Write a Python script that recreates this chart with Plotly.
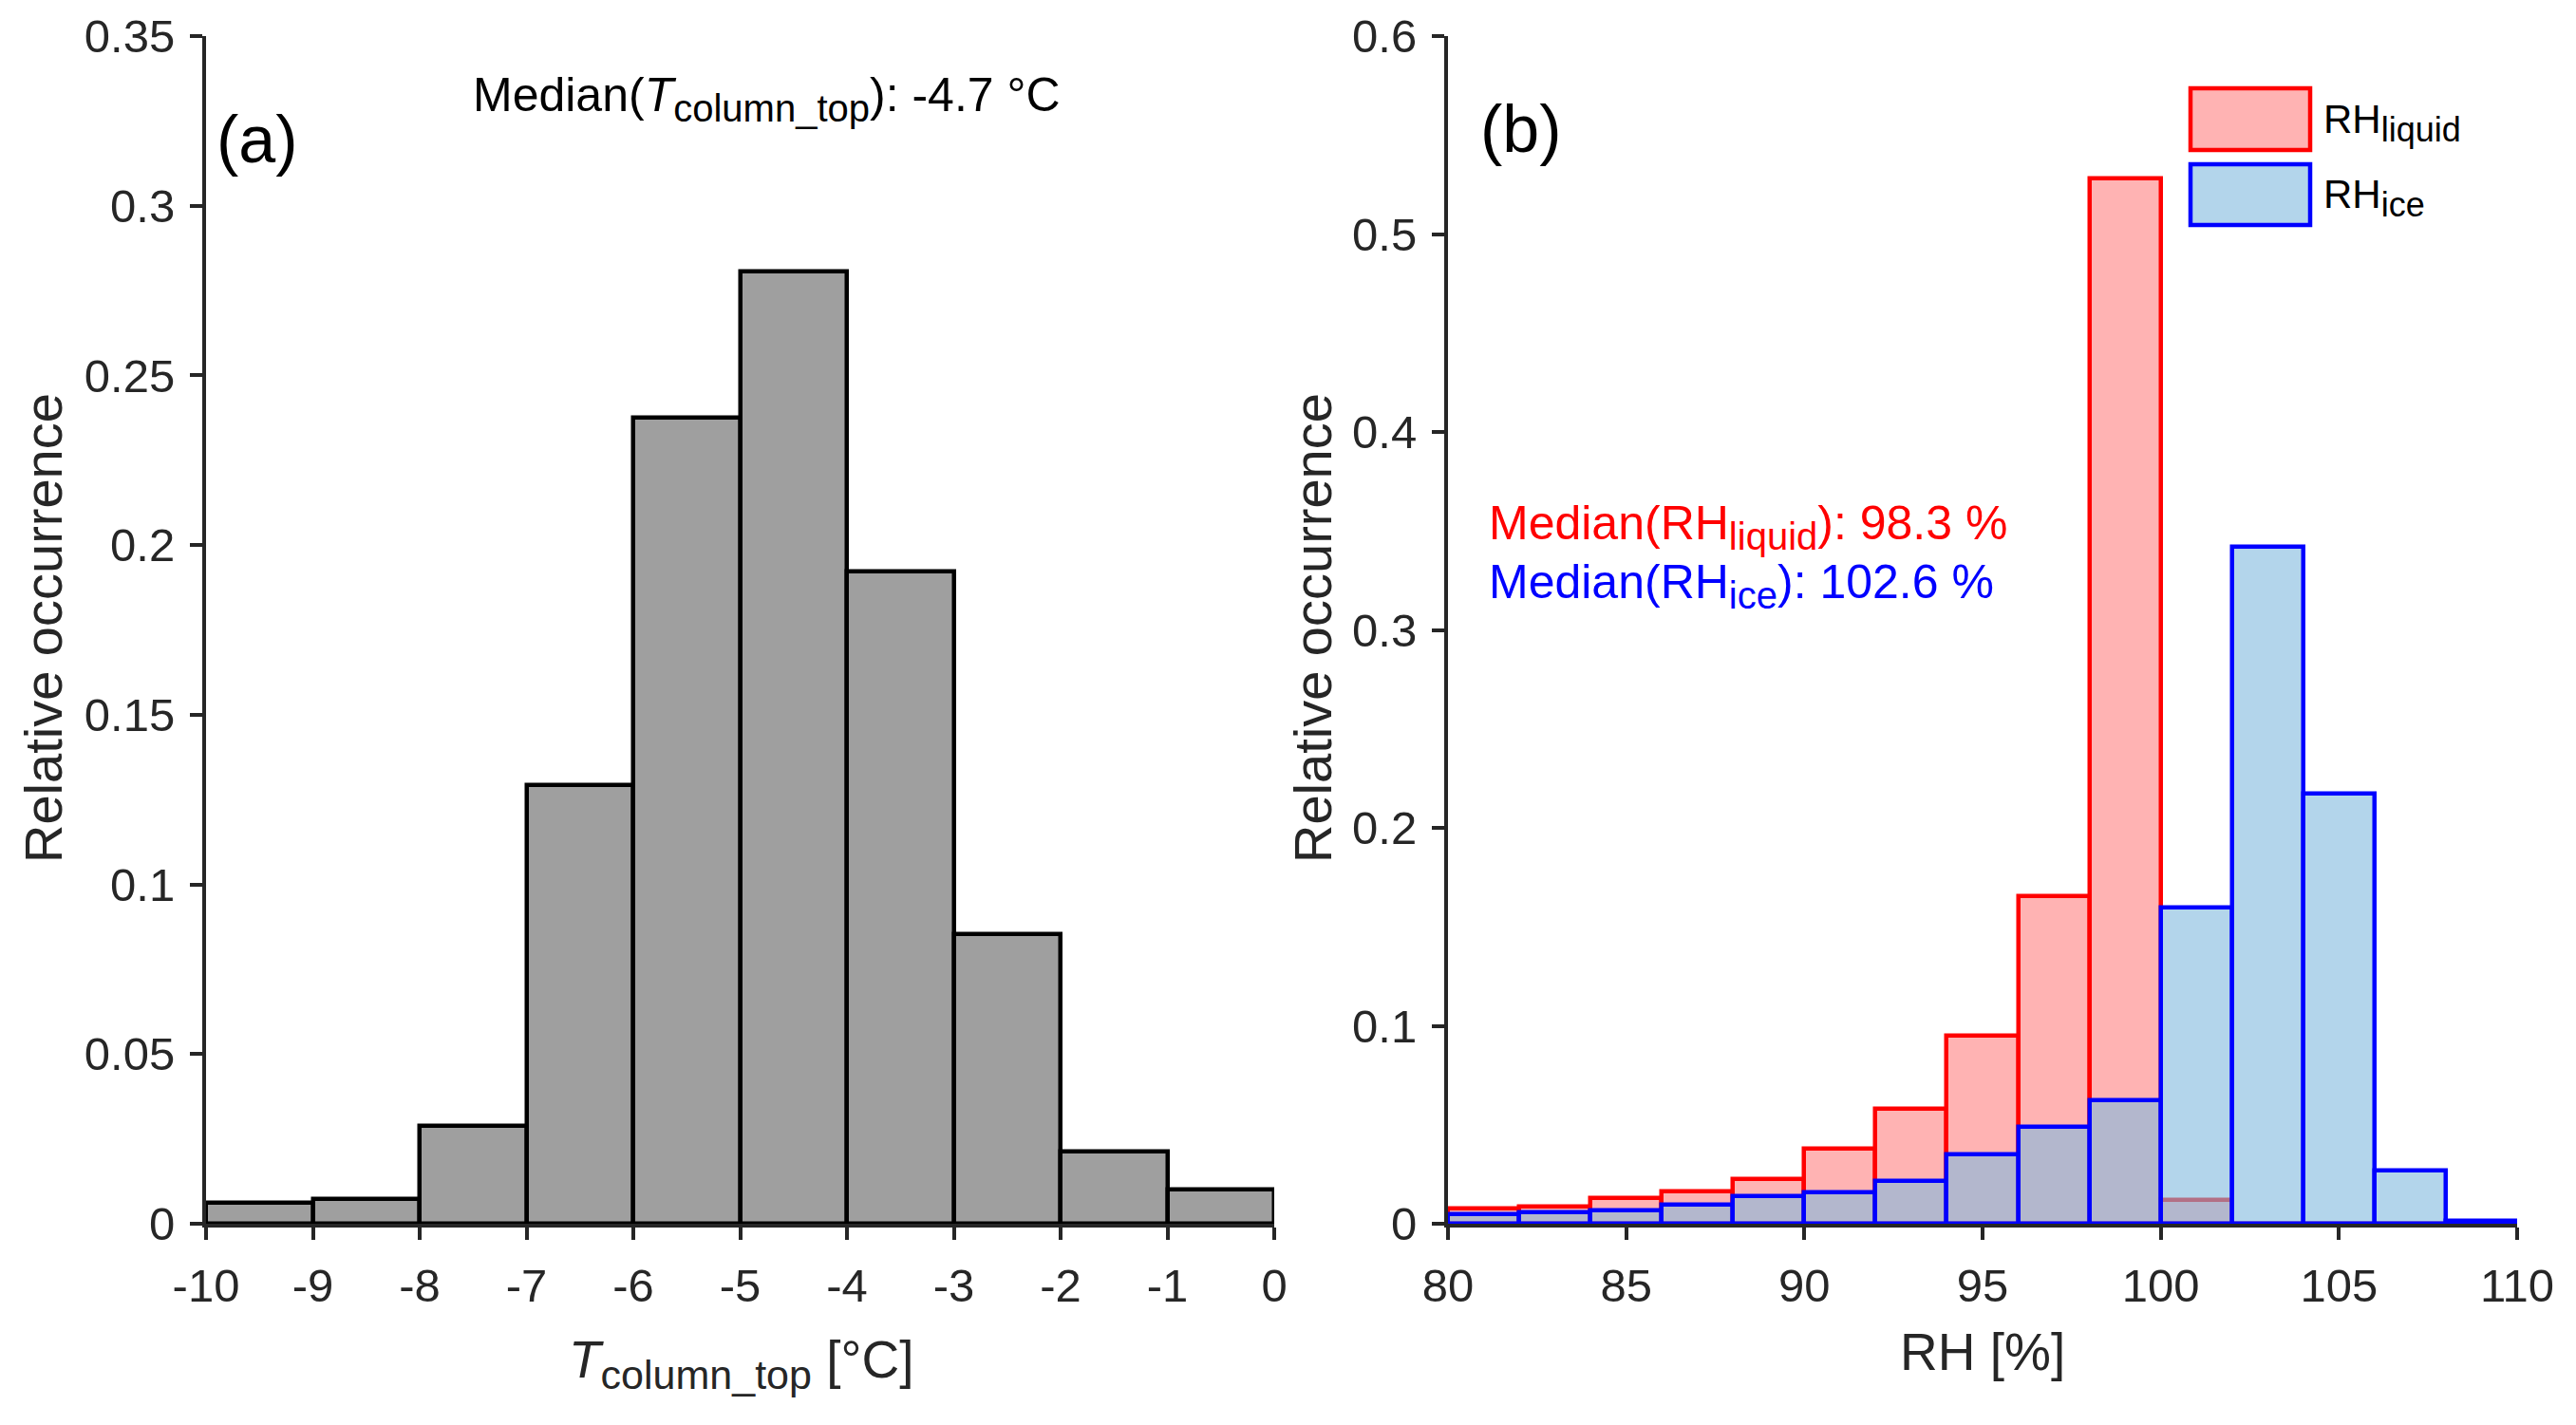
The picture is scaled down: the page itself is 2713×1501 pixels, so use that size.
import plotly.graph_objects as go
from plotly.subplots import make_subplots

#===============================================================================
#
#  two-panel histogram: (a) column-top temperature, (b) RH wrt liquid / ice
#
#-------------------------------------------------------------------------------

# (a) column-top temperature, 1 degC bins
t_edges = [-10, -9, -8, -7, -6, -5, -4, -3, -2, -1, 0]
t_occurrence = [0.0061, 0.0073, 0.0287, 0.1292, 0.2375, 0.2806, 0.1922, 0.0852, 0.0212, 0.0102]
t_ticks = [-10, -9, -8, -7, -6, -5, -4, -3, -2, -1, 0]
t_ticklabels = ["-10", "-9", "-8", "-7", "-6", "-5", "-4", "-3", "-2", "-1", "0"]
occ_a_ticks = [0, 0.05, 0.1, 0.15, 0.2, 0.25, 0.3, 0.35]
occ_a_ticklabels = ["0", "0.05", "0.1", "0.15", "0.2", "0.25", "0.3", "0.35"]

# (b) relative humidity, 2 % bins
rh_edges = [80, 82, 84, 86, 88, 90, 92, 94, 96, 98, 100, 102, 104, 106, 108, 110]
rh_liquid = [0.0075, 0.0088, 0.0128, 0.0165, 0.0224, 0.0381, 0.0579, 0.0950, 0.1653, 0.5280,
             0.0120, 0, 0, 0, 0]
rh_ice = [0.0048, 0.0056, 0.0066, 0.0094, 0.0138, 0.0156, 0.0216, 0.0349, 0.0487, 0.0624,
          0.1598, 0.3420, 0.2172, 0.0268, 0.0013]
rh_ticks = [80, 85, 90, 95, 100, 105, 110]
rh_ticklabels = ["80", "85", "90", "95", "100", "105", "110"]
occ_b_ticks = [0, 0.1, 0.2, 0.3, 0.4, 0.5, 0.6]
occ_b_ticklabels = ["0", "0.1", "0.2", "0.3", "0.4", "0.5", "0.6"]

median_t = "-4.7"
median_liquid = "98.3"
median_ice = "102.6"

FONT = "Liberation Sans, Arial, Helvetica, sans-serif"
AXC = "#262626"
W, H = 2713, 1501


def centers(edges):
    return [(a + b) / 2 for a, b in zip(edges[:-1], edges[1:])]


def widths(edges):
    return [b - a for a, b in zip(edges[:-1], edges[1:])]


def px(x, y):
    # pixel position in the page -> paper fraction
    return x / W, (H - y) / H


def sub(text, size):
    # MATLAB tex subscripts are bigger than plotly's default 70 %
    return f"<sub><span style='font-size:{size}px'>{text}</span></sub>"


fig = make_subplots(rows=1, cols=2)

fig.add_trace(go.Bar(
    x=centers(t_edges), y=t_occurrence, width=widths(t_edges),
    marker=dict(color="#9f9f9f", line=dict(color="black", width=4.5)),
    showlegend=False, hoverinfo="x+y"), row=1, col=1)

fig.add_trace(go.Bar(
    x=centers(rh_edges), y=rh_liquid, width=widths(rh_edges),
    marker=dict(color="rgba(255,128,128,0.6)", line=dict(color="#ff0000", width=4.5)),
    showlegend=False, name="RH liquid"), row=1, col=2)

fig.add_trace(go.Bar(
    x=centers(rh_edges), y=rh_ice, width=widths(rh_edges),
    marker=dict(color="rgba(128,185,222,0.6)", line=dict(color="#0000ff", width=4.5)),
    showlegend=False, name="RH ice"), row=1, col=2)

axis_style = dict(
    showline=True, linewidth=4, linecolor=AXC, mirror=False,
    ticks="outside", ticklen=13, tickwidth=4, tickcolor=AXC,
    showgrid=False, zeroline=False, automargin=False,
    tickfont=dict(family=FONT, size=49, color=AXC),
)

fig.update_xaxes(ticklabelstandoff=6, **axis_style)
fig.update_yaxes(ticklabelstandoff=6, **axis_style)

fig.update_layout(
    xaxis=dict(domain=[217 / W, 1342 / W], range=[-10, 0],
               tickvals=t_ticks, ticktext=t_ticklabels),
    yaxis=dict(domain=[(H - 1289) / H, (H - 38) / H], range=[0, 0.35],
               tickvals=occ_a_ticks, ticktext=occ_a_ticklabels),
    xaxis2=dict(domain=[1525 / W, 2651 / W], range=[80, 110],
                tickvals=rh_ticks, ticktext=rh_ticklabels),
    yaxis2=dict(domain=[(H - 1289) / H, (H - 38) / H], range=[0, 0.6],
                tickvals=occ_b_ticks, ticktext=occ_b_ticklabels),
    barmode="overlay",
    bargap=0,
    autosize=False,
    width=W,
    height=H,
    margin=dict(l=0, r=0, t=0, b=0, pad=0, autoexpand=False),
    plot_bgcolor="white",
    paper_bgcolor="white",
    font=dict(family=FONT, size=49, color="black"),
)

ann = []


def note(text, x, y, size, color="black", xanchor="center", ref="paper", **kw):
    if ref == "paper":
        xr, yr = "paper", "paper"
    else:
        xr, yr = ref
    ann.append(dict(text=text, x=x, y=y, xref=xr, yref=yr, xanchor=xanchor, yanchor="middle",
                    showarrow=False, font=dict(family=FONT, size=size, color=color), **kw))


# axis titles
note("Relative occurrence", *px(45, 662), 56, AXC, textangle=-90)
note("Relative occurrence", *px(1382, 662), 56, AXC, textangle=-90)
note("<i>T</i>" + sub("column_top", 43) + " [°C]", *px(780, 1436), 55, AXC)
note("RH [%]", *px(2088, 1424), 55, AXC)

# panel labels
note("(a)", -9.92, 0.3196, 70, xanchor="left", ref=("x", "y"))
note("(b)", 80.85, 0.553, 70, xanchor="left", ref=("x2", "y2"))

# medians
note(f"Median(<i>T</i>{sub('column_top', 40)}): {median_t} °C", -4.75, 0.3315, 50, ref=("x", "y"))
note(f"Median(RH{sub('liquid', 40)}): {median_liquid} %", 81.09, 0.352, 50, "#ff0000",
     xanchor="left", ref=("x2", "y2"))
note(f"Median(RH{sub('ice', 40)}): {median_ice} %", 81.09, 0.3225, 50, "#0000ff",
     xanchor="left", ref=("x2", "y2"))

# hand-drawn legend (wide MATLAB-style patches)
legend_items = [("RH" + sub("liquid", 36), "rgba(255,128,128,0.6)", "#ff0000", 93, 158),
                ("RH" + sub("ice", 36), "rgba(128,185,222,0.6)", "#0000ff", 173, 237)]
shapes = []
for label, fill, edge, top, bot in legend_items:
    x0, y0 = px(2307, bot)
    x1, y1 = px(2433, top)
    shapes.append(dict(type="rect", xref="paper", yref="paper", x0=x0, x1=x1, y0=y0, y1=y1,
                       fillcolor=fill, line=dict(color=edge, width=4.5)))
    note(label, *px(2445, (top + bot) / 2 + 4), 42, xanchor="left")

fig.update_layout(annotations=ann, shapes=shapes)

# drop the default 8px page margin so the figure sits at the window's corner
fig.write_html("out.html", config={"displayModeBar": False},
               post_script="document.body.style.margin='0px';")
